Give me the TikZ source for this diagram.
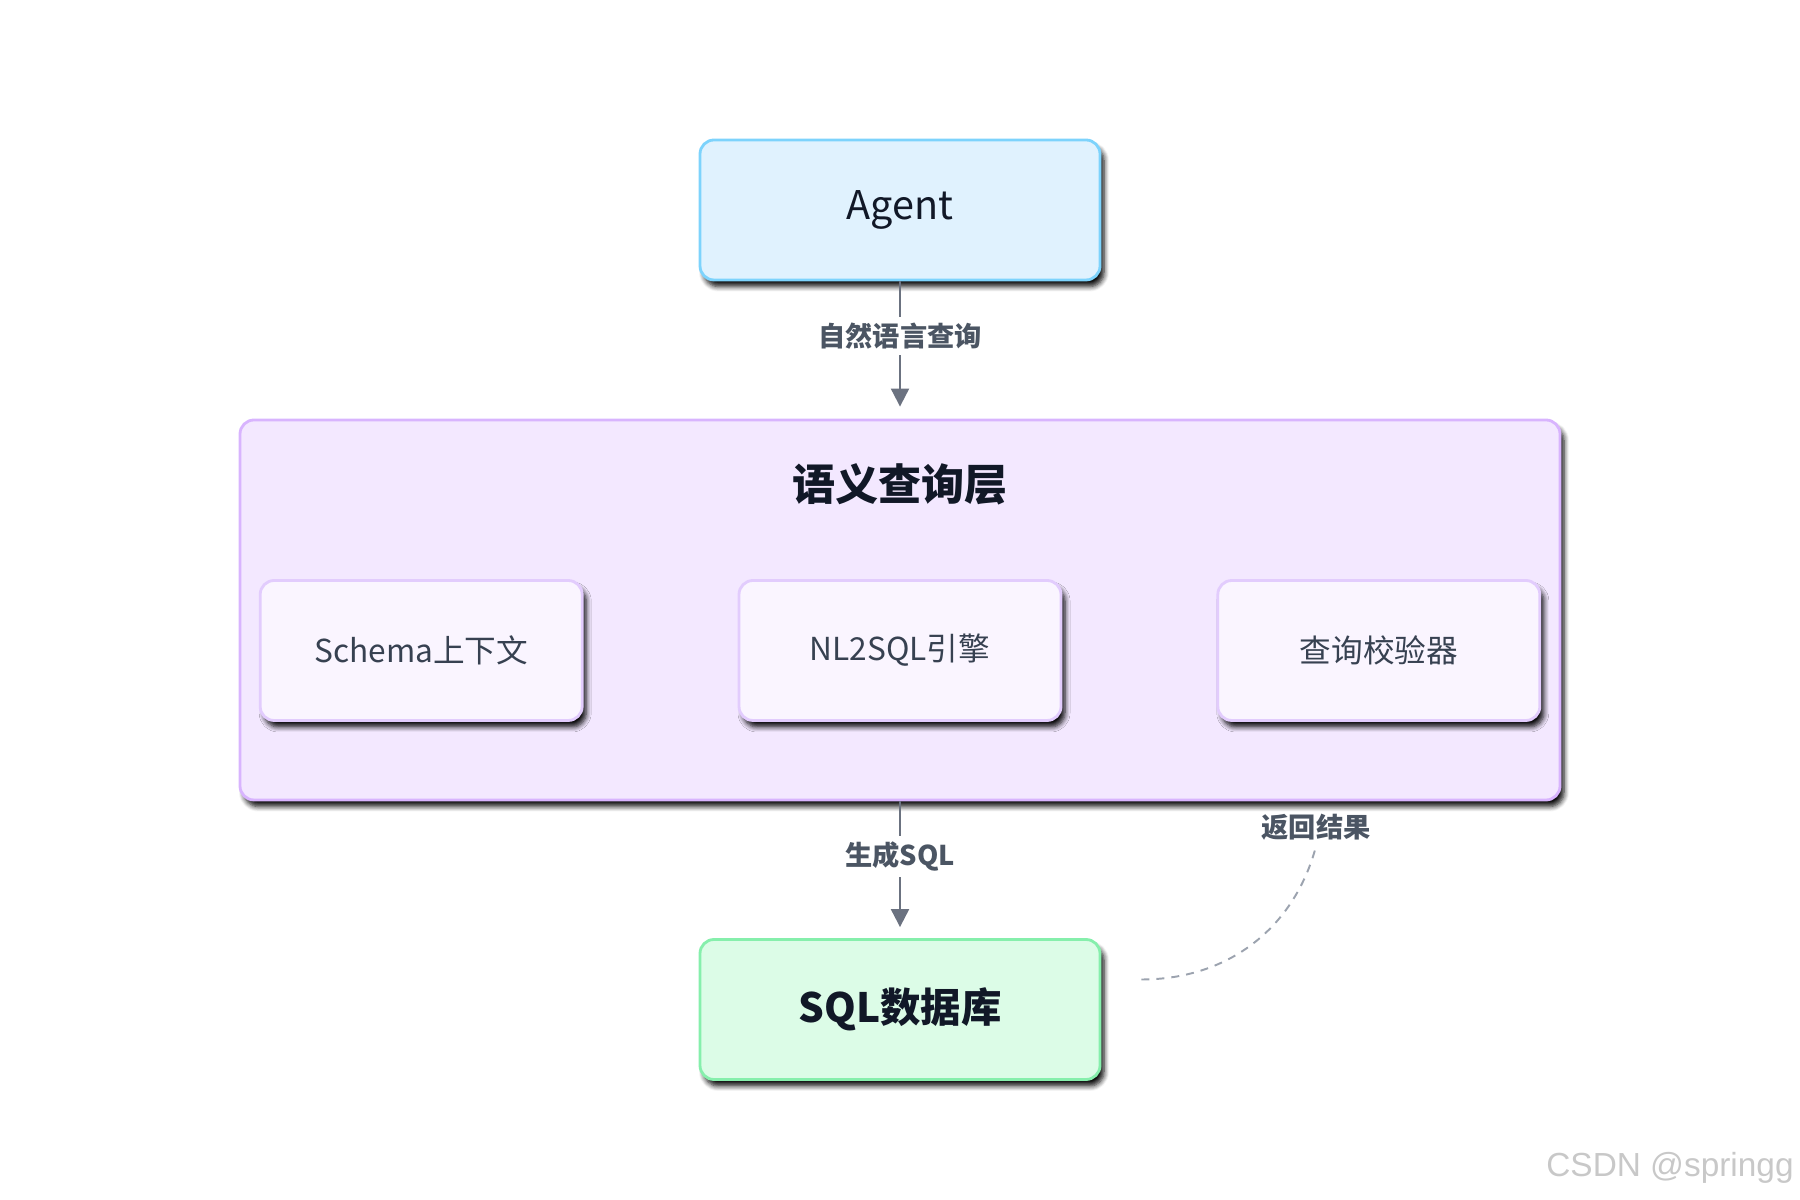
\documentclass[tikz,border=0pt]{standalone}
\usepackage{fontspec}
\setmainfont{Noto Sans CJK SC}
\newfontfamily\wmfont{Liberation Sans}
\usetikzlibrary{positioning, shadows.blur, arrows.meta}
\definecolor{agentfill}{HTML}{E0F2FE}
\definecolor{agentline}{HTML}{7DD3FC}
\definecolor{layerfill}{HTML}{F3E8FF}
\definecolor{layerline}{HTML}{D8B4FE}
\definecolor{innerfill}{HTML}{FAF5FF}
\definecolor{innerline}{HTML}{E2CCFD}
\definecolor{dbfill}{HTML}{DCFCE7}
\definecolor{dbline}{HTML}{86EFAC}
\definecolor{darktext}{HTML}{111827}
\definecolor{innertext}{HTML}{374151}
\definecolor{labeltext}{HTML}{4B5563}
\definecolor{arrowgray}{HTML}{6B7280}
\definecolor{dashgray}{HTML}{9CA3AF}
\definecolor{wmgray}{HTML}{C8C8C8}

\begin{document}
\begin{tikzpicture}[box/.style={draw,line width=1.6pt,rounded corners=0.28cm,align=center,minimum width=8cm,minimum height=2.8cm,blur shadow={shadow xshift=0.08cm,shadow yshift=-0.13cm,shadow blur radius=0.1cm,shadow blur steps=6,shadow opacity=95}},
        inbox/.style={box,draw=innerline,fill=innerfill,minimum width=6.44cm,text=innertext,font=\fontsize{18}{22}\selectfont},
        lbl/.style={text=labeltext,font=\bfseries\fontsize{15.5}{18}\selectfont},
        flow/.style={draw=arrowgray,line width=1.2pt,-{Triangle[length=0.36cm,width=0.36cm]}}]
        \useasboundingbox (0,0) rectangle (36,24);
        \node[box,draw=agentline,fill=agentfill,text=darktext,font=\fontsize{22.5}{26}\selectfont] (agent) at (18,19.8) {Agent};
        \node[box,draw=layerline,fill=layerfill,minimum width=26.4cm,minimum height=7.6cm] (layer) at (18,11.8) {};
        \node[text=darktext,font=\bfseries\fontsize{24.5}{28}\selectfont] (title) at (18,14.32) {语义查询层};
        \node[inbox] (nl2sql) at (18,10.99) {NL2SQL引擎};
        \node[inbox,left=3.08cm of nl2sql] (schema) {Schema上下文};
        \node[inbox,right=3.08cm of nl2sql] (check) {查询校验器};
        \node[box,draw=dbline,fill=dbfill,text=darktext,font=\bfseries\fontsize{23}{26}\selectfont] (db) at (18,3.81) {SQL数据库};
        \draw[flow] (agent) -- node[lbl,fill=white,pos=0.44] {自然语言查询} ([yshift=0.24cm]layer.north);
        \draw[flow] (layer) -- node[lbl,fill=white,pos=0.44] {生成SQL} ([yshift=0.22cm]db.north);
        \node[lbl] (ret) at (26.32,7.46) {返回结果};
        \coordinate[right=0.8cm of db.east,yshift=0.6cm] (retstart);
        \draw[dashgray,line width=1.1pt,dash pattern=on 0.16cm off 0.14cm] (retstart) to[out=0,in=-105] (ret.south);
        \node[text=wmgray,font=\wmfont\fontsize{19}{23}\selectfont] (mark) at (33.4,0.64) {CSDN @springg};
    \end{tikzpicture}
\end{document}
